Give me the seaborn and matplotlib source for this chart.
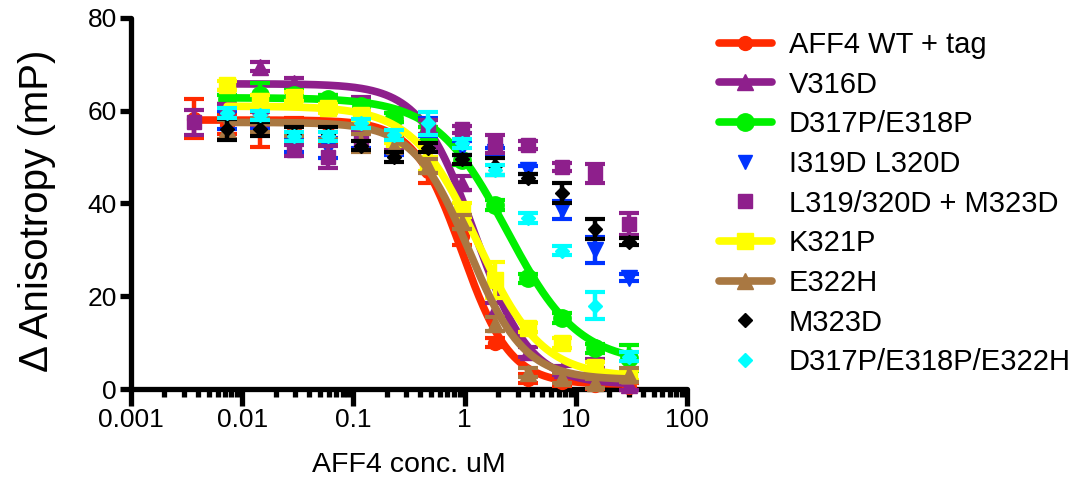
import numpy as np
import pandas as pd
import matplotlib
matplotlib.use("Agg")
import matplotlib.pyplot as plt
import seaborn as sns
from matplotlib.lines import Line2D
from matplotlib.ticker import LogLocator, NullFormatter

# ---- data -------------------------------------------------------------
# two-fold dilution series of AFF4 peptide (uM)
conc_full = [0.00366, 0.00732, 0.0146, 0.0293, 0.0586, 0.117, 0.234,
             0.469, 0.938, 1.875, 3.75, 7.5, 15.0, 30.0]
conc_short = conc_full[1:]

series_names = ["AFF4 WT + tag", "V316D", "D317P/E318P", "I319D L320D",
                "L319/320D + M323D", "K321P", "E322H", "M323D",
                "D317P/E318P/E322H"]

wt_mean = [58.3, 57.0, 56.0, 56.5, 55.0, 54.0, 52.5, 47.0, 33.0, 10.0, 2.2, 1.5, 0.8, 0.5]
wt_sem = [4.2, 2.0, 3.8, 2.0, 2.0, 2.5, 1.5, 2.6, 2.0, 1.0, 1.0, 0.8, 0.8, 0.8]

v316d_mean = [63.0, 69.5, 66.0, 62.0, 61.5, 59.0, 55.0, 44.5, 17.0, 8.0, 4.0, 5.5, 0.8]
v316d_sem = [1.5, 1.0, 1.0, 1.5, 1.5, 1.5, 1.5, 1.5, 1.5, 1.0, 1.0, 1.0, 1.0]

pp_mean = [62.5, 63.5, 63.5, 62.5, 61.0, 58.5, 55.0, 49.4, 39.7, 23.9, 15.3, 8.8, 6.7]
pp_sem = [1.0, 2.5, 1.0, 1.0, 1.0, 1.0, 1.5, 1.0, 1.0, 1.0, 1.0, 1.0, 2.8]

il_mean = [58.0, 58.0, 52.5, 52.0, 53.5, 52.0, 56.5, 52.0, 51.0, 47.2, 38.6, 30.0, 24.0]
il_sem = [2.0, 2.0, 1.5, 2.2, 1.5, 1.5, 2.0, 1.5, 1.0, 0.8, 2.0, 2.8, 0.8]

ll_mean = [57.5, 60.0, 58.5, 51.5, 50.0, 53.5, 53.0, 56.5, 56.0, 52.8, 52.6, 47.9, 46.5, 35.6]
ll_sem = [2.7, 1.5, 1.5, 1.2, 2.4, 2.0, 1.5, 1.5, 0.8, 2.0, 0.8, 0.8, 2.1, 2.4]

k321p_mean = [65.5, 62.0, 63.0, 60.5, 59.0, 54.0, 48.5, 38.5, 23.5, 13.2, 9.9, 4.8, 3.0]
k321p_sem = [1.0, 1.5, 1.0, 1.0, 1.0, 1.0, 1.5, 1.5, 3.8, 1.0, 1.0, 1.0, 1.0]

e322h_mean = [56.0, 57.0, 56.0, 55.5, 53.0, 52.5, 48.0, 36.0, 14.0, 3.5, 2.4, 1.2, 3.0]
e322h_sem = [2.0, 1.5, 1.5, 1.5, 2.0, 1.5, 1.5, 1.5, 1.5, 1.0, 1.0, 1.0, 1.5]

m323d_mean = [56.0, 56.0, 55.0, 55.0, 52.5, 50.0, 52.0, 49.5, 48.0, 45.5, 42.3, 34.5, 31.8]
m323d_sem = [2.3, 1.5, 1.5, 1.5, 1.0, 1.0, 1.0, 1.0, 1.8, 0.8, 2.1, 2.2, 0.8]

ppe_mean = [59.5, 59.0, 54.5, 54.5, 57.3, 54.8, 57.3, 53.0, 47.2, 36.9, 29.8, 18.0, 7.0]
ppe_sem = [1.0, 1.0, 1.0, 1.0, 1.0, 1.0, 2.5, 1.0, 1.0, 1.0, 1.0, 3.0, 1.0]

# four-parameter logistic fits: top, bottom, IC50 (uM), Hill slope
fit_top = {"AFF4 WT + tag": 58.0, "V316D": 65.8, "D317P/E318P": 62.8,
           "K321P": 61.0, "E322H": 57.5}
fit_bottom = {"AFF4 WT + tag": 1.0, "V316D": 1.0, "D317P/E318P": 5.5,
              "K321P": 2.5, "E322H": 2.0}
fit_ic50 = {"AFF4 WT + tag": 0.95, "V316D": 1.24, "D317P/E318P": 2.4,
            "K321P": 1.3, "E322H": 1.1}
fit_hill = {"AFF4 WT + tag": 2.0, "V316D": 1.77, "D317P/E318P": 1.35,
            "K321P": 1.5, "E322H": 1.75}

x_ticks = [0.001, 0.01, 0.1, 1, 10, 100]
x_tick_labels = ["0.001", "0.01", "0.1", "1", "10", "100"]
y_ticks = [0, 20, 40, 60, 80]

# ---- styling per data set --------------------------------------------
styles = {
    "AFF4 WT + tag":     dict(color="#FF2A00", marker="o", ms=10),
    "V316D":             dict(color="#8E1F8C", marker="^", ms=11),
    "D317P/E318P":       dict(color="#00F000", marker="o", ms=12.5),
    "I319D L320D":       dict(color="#0033FF", marker="v", ms=11),
    "L319/320D + M323D": dict(color="#8E1F8C", marker="s", ms=10.5),
    "K321P":             dict(color="#FFFF00", marker="s", ms=11.5),
    "E322H":             dict(color="#A97842", marker="^", ms=11),
    "M323D":             dict(color="#000000", marker="D", ms=7),
    "D317P/E318P/E322H": dict(color="#00FFFF", marker="D", ms=7.5),
}

data = {
    "AFF4 WT + tag": (conc_full, wt_mean, wt_sem),
    "V316D": (conc_short, v316d_mean, v316d_sem),
    "D317P/E318P": (conc_short, pp_mean, pp_sem),
    "I319D L320D": (conc_short, il_mean, il_sem),
    "L319/320D + M323D": (conc_full, ll_mean, ll_sem),
    "K321P": (conc_short, k321p_mean, k321p_sem),
    "E322H": (conc_short, e322h_mean, e322h_sem),
    "M323D": (conc_short, m323d_mean, m323d_sem),
    "D317P/E318P/E322H": (conc_short, ppe_mean, ppe_sem),
}


def logistic(x, top, bottom, ic50, hill):
    return bottom + (top - bottom) / (1.0 + (x / ic50) ** hill)


# ---- figure -----------------------------------------------------------
sns.set_style("ticks")
plt.rcParams["font.family"] = ["Liberation Sans", "DejaVu Sans"]
for key in ("text.color", "axes.labelcolor", "xtick.color", "ytick.color",
            "axes.edgecolor"):
    plt.rcParams[key] = "black"

fig = plt.figure(figsize=(10.89, 4.86), dpi=100)
ax = fig.add_axes([131 / 1089, 97 / 486, 556 / 1089, 371 / 486])
ax.set_xscale("log")

LW = 5.5
for i, name in enumerate(series_names):
    st = styles[name]
    x, m, s = data[name]
    z = 4 + 2 * i
    ax.errorbar(x, m, yerr=s, fmt=st["marker"], color=st["color"],
                ms=st["ms"], mec=st["color"], elinewidth=3.2, capsize=7,
                capthick=3.0, clip_on=False, zorder=z)
    if name in fit_top:
        xs = np.logspace(np.log10(x[0]), np.log10(x[-1]), 300)
        fit_df = pd.DataFrame({
            "conc": xs,
            "resp": logistic(xs, fit_top[name], fit_bottom[name],
                             fit_ic50[name], fit_hill[name]),
        })
        sns.lineplot(data=fit_df, x="conc", y="resp", ax=ax, color=st["color"],
                     linewidth=LW, estimator=None, legend=False,
                     zorder=z + 1, solid_capstyle="round")

ax.set_xlim(0.001, 100)
ax.set_ylim(0, 80)
ax.set_xticks(x_ticks)
ax.set_xticklabels(x_tick_labels)
ax.xaxis.set_minor_locator(LogLocator(base=10, subs=np.arange(2, 10)))
ax.xaxis.set_minor_formatter(NullFormatter())
ax.set_yticks(y_ticks)

for side in ("top", "right"):
    ax.spines[side].set_visible(False)
for side in ("left", "bottom"):
    ax.spines[side].set_linewidth(3.8)
    ax.spines[side].set_capstyle("round")
    ax.spines[side].set_zorder(3)

ax.tick_params(axis="x", which="major", length=12, width=3.8, labelsize=19, pad=2)
ax.tick_params(axis="x", which="minor", length=5.5, width=3.8)
ax.tick_params(axis="y", which="major", length=8, width=3.8, labelsize=19, pad=2)

ax.set_xlabel("AFF4 conc. uM", fontsize=20.5, labelpad=14)
ax.set_ylabel("Δ Anisotropy (mP)", fontsize=29)
ax.yaxis.set_label_coords(-0.135, 0.48)

# legend
fitted = set(fit_top)
handles = []
for name in series_names:
    st = styles[name]
    if name in fitted:
        h = Line2D([], [], color=st["color"], lw=LW, marker=st["marker"],
                   ms=st["ms"], mec=st["color"], solid_capstyle="round")
    else:
        h = Line2D([], [], ls="none", color=st["color"], marker=st["marker"],
                   ms=st["ms"] * 0.95, mec=st["color"])
    handles.append(h)

fig.legend(handles, series_names, loc="upper left",
           bbox_to_anchor=(719 / 1089, 1 - 31 / 486), frameon=False,
           fontsize=21, handlelength=1.8, handletextpad=0.6,
           labelspacing=0.4, borderaxespad=0, borderpad=0, numpoints=1)

fig.savefig("out.png", dpi=100)
